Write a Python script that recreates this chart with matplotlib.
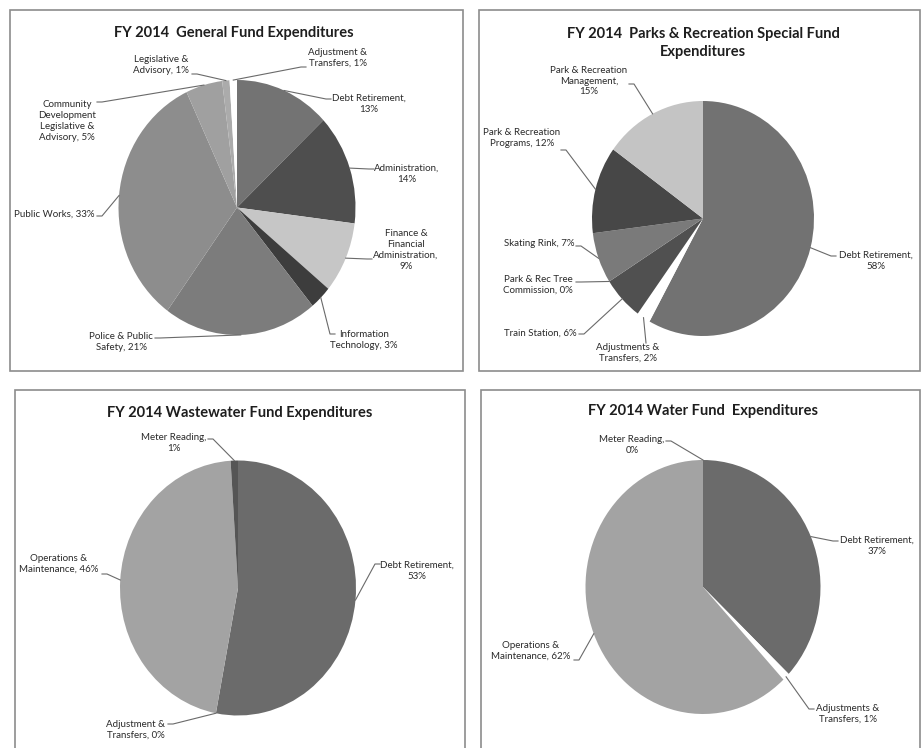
"""
FY 2014 fund expenditure pies (General, Parks & Recreation, Wastewater, Water).
Four Excel-style grey pie charts, each in its own framed panel.
"""

import matplotlib
matplotlib.use('Agg')

import numpy as np
import matplotlib.pyplot as plt
from matplotlib.patches import Rectangle
from matplotlib.lines import Line2D

# ---------------------------------------------------------------- data
# slices are listed clockwise from 12 o'clock, as Excel draws them
gen_title = 'FY 2014  General Fund Expenditures'
gen_names = ['Debt Retirement', 'Administration', 'Finance &\nFinancial\nAdministration',
             'Information\nTechnology', 'Police & Public\nSafety', 'Public Works',
             'Community\nDevelopment\nLegislative &\nAdvisory', 'Legislative &\nAdvisory',
             'Adjustment &\nTransfers']
gen_pct = [13, 14, 9, 3, 21, 33, 5, 1, 1]

parks_title = 'FY 2014  Parks & Recreation Special Fund\nExpenditures'
parks_names = ['Debt Retirement', 'Adjustments &\nTransfers', 'Train Station',
               'Park & Rec Tree\nCommission', 'Skating Rink', 'Park & Recreation\nPrograms',
               'Park & Recreation\nManagement']
parks_pct = [58, 2, 6, 0, 7, 12, 15]

waste_title = 'FY 2014 Wastewater Fund Expenditures'
waste_names = ['Debt Retirement', 'Adjustment &\nTransfers', 'Operations &\nMaintenance',
               'Meter Reading']
waste_pct = [53, 0, 46, 1]

water_title = 'FY 2014 Water Fund  Expenditures'
water_names = ['Debt Retirement', 'Adjustments &\nTransfers', 'Operations &\nMaintenance',
               'Meter Reading']
water_pct = [37, 1, 62, 0]

# ---------------------------------------------------------------- style
W, H = 922, 748
LABEL_FONT = ['Lato', 'DejaVu Sans']
TEXT_COL = '#2a2a2a'
LINE_COL = '#6a6a6a'

gen_colors = ['#737373', '#4e4e4e', '#c6c6c6', '#3d3d3d', '#7c7c7c',
              '#8d8d8d', '#a0a0a0', '#ababab', '#ffffff']
parks_colors = ['#727272', '#ffffff', '#505050', '#606060', '#7a7a7a', '#474747', '#c4c4c4']
waste_colors = ['#6b6b6b', '#6b6b6b', '#a3a3a3', '#555555']
water_colors = ['#6b6b6b', '#ffffff', '#a3a3a3', '#a3a3a3']

# label separator between name and percentage
gen_sep = [',\n', ',\n', ',\n', ', ', ', ', ', ', ', ', ', ', ', ']
parks_sep = [',\n', ', ', ', ', ', ', ', ', ', ', ',\n']
waste_sep = [',\n', ', ', ', ', ',\n']
water_sep = [',\n', ', ', ', ', ',\n']

# layout in reference pixels
panels = [
    dict(box=(10, 10, 463, 371), title=gen_title, title_xy=(234, 33),
         pie=(237, 207.5, 118.5, 127.5), names=gen_names, pct=gen_pct,
         colors=gen_colors, sep=gen_sep,
         text_xy=[(369, 104), (407, 174), (406, 250), (364, 340), (121, 342),
                  (54, 214), (67, 121), (161, 65), (338, 58)],
         anchor=[(331, 99), (374, 169), (372, 259), (335, 334), (155, 338),
                 (97, 216), (97, 102), (192, 74), (306, 67)],
         tick=[-1, -1, -1, -1, 1, 1, 1, 1, -1]),
    dict(box=(479, 10, 920, 371), title=parks_title, title_xy=(703, 43),
         pie=(703, 218.5, 111, 117.5), names=parks_names, pct=parks_pct,
         colors=parks_colors, sep=parks_sep,
         text_xy=[(876, 261), (628, 353), (540, 333), (538, 285), (539, 243),
                  (522, 138), (589, 81)],
         anchor=[(836, 256), (646, 343), (579, 334), (576, 282), (576, 246),
                 (561, 150), (629, 84)],
         tick=[-1, 0, 1, 1, 1, 1, 1]),
    dict(box=(15, 390, 465, 760), title=waste_title, title_xy=(240, 413),
         pie=(238, 588, 118, 127.5), names=waste_names, pct=waste_pct,
         colors=waste_colors, sep=waste_sep,
         text_xy=[(417, 571), (136, 730), (59, 564), (174, 443)],
         anchor=[(380, 564), (168, 724), (102, 574), (208, 439)],
         tick=[-1, 1, 1, 1]),
    dict(box=(481, 390, 920, 760), title=water_title, title_xy=(703, 411),
         pie=(703, 587, 117.5, 127), names=water_names, pct=water_pct,
         colors=water_colors, sep=water_sep,
         text_xy=[(877, 546), (848, 714), (531, 651), (632, 445)],
         anchor=[(838, 541), (814, 709), (574, 660), (666, 441)],
         tick=[-1, -1, 1, 1]),
]


def fx(x):
    return x / W


def fy(y):
    return 1 - y / H


fig = plt.figure(figsize=(W / 100, H / 100), dpi=100)
fig.patch.set_facecolor('white')

for p in panels:
    x0, y0, x1, y1 = p['box']
    fig.add_artist(Rectangle((fx(x0), fy(y1)), (x1 - x0) / W, (y1 - y0) / H,
                             transform=fig.transFigure, fill=False,
                             edgecolor='#8c8c8c', lw=1.2))
    fig.text(fx(p['title_xy'][0]), fy(p['title_xy'][1]), p['title'],
             ha='center', va='center', fontsize=10.5, fontweight='bold',
             family=LABEL_FONT, color='#1e1e1e', linespacing=1.35)

    cx, cy, rx, ry = p['pie']
    ax = fig.add_axes([fx(cx - rx), fy(cy + ry), 2 * rx / W, 2 * ry / H])
    wedges, _ = ax.pie(p['pct'], colors=p['colors'], startangle=90,
                       counterclock=False, wedgeprops=dict(linewidth=0))
    ax.set_xlim(-1, 1)
    ax.set_ylim(-1, 1)
    ax.set_aspect('auto')
    ax.axis('off')

    to_fig = fig.transFigure.inverted()
    for i, w in enumerate(wedges):
        mid = np.deg2rad((w.theta1 + w.theta2) / 2)
        edge = to_fig.transform(ax.transData.transform((np.cos(mid), np.sin(mid))))
        label = p['names'][i] + p['sep'][i] + f"{p['pct'][i]}%"
        tx, ty = p['text_xy'][i]
        fig.text(fx(tx), fy(ty), label, ha='center', va='center', fontsize=7,
                 family=LABEL_FONT, color=TEXT_COL, linespacing=1.25)
        axp, ayp = p['anchor'][i]
        xs = [fx(axp), fx(axp + 5 * p['tick'][i]), edge[0]]
        ys = [fy(ayp), fy(ayp), edge[1]]
        fig.add_artist(Line2D(xs, ys, transform=fig.transFigure,
                              color=LINE_COL, lw=0.8))

fig.savefig('out.png', dpi=100, facecolor='white')
